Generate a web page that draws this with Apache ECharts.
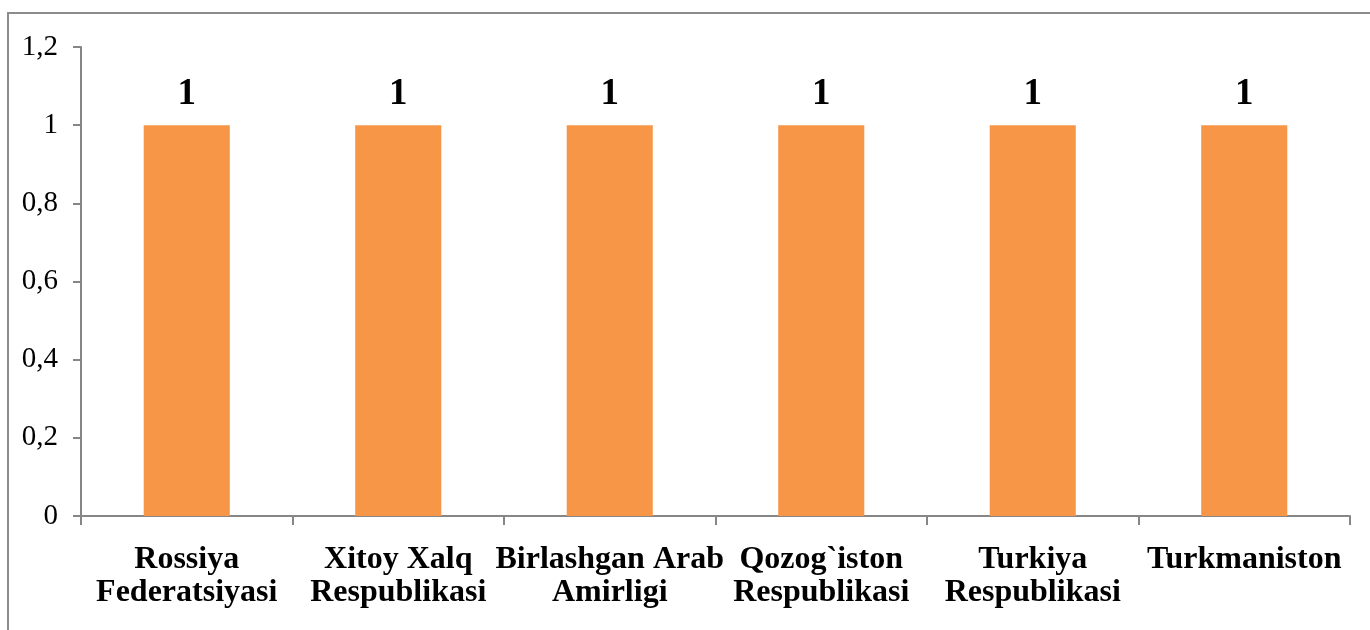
<!DOCTYPE html>
<html>
<head>
<meta charset="utf-8">
<script src="https://cdn.jsdelivr.net/npm/echarts@6/dist/echarts.min.js"></script>
<style>
  html, body { margin: 0; padding: 0; background: #fff; }
  #chart { width: 1370px; height: 630px; }
</style>
</head>
<body>
<div id="chart"></div>
<script>
// categories and values
const countries = [
  'Rossiya\nFederatsiyasi',
  'Xitoy Xalq\nRespublikasi',
  'Birlashgan Arab\nAmirligi',
  'Qozog`iston\nRespublikasi',
  'Turkiya\nRespublikasi',
  'Turkmaniston'
];
const values = [1, 1, 1, 1, 1, 1];

const axisGray = '#868686';
const serif = '"Liberation Serif", "Times New Roman", serif';

const chart = echarts.init(document.getElementById('chart'));

const option = {
  animation: false,
  backgroundColor: '#fff',
  textStyle: { fontFamily: serif },
  graphic: [{
    // outer frame of the chart area (runs off the right and bottom edges)
    type: 'rect',
    shape: { x: 8, y: 13, width: 1400, height: 660 },
    style: { fill: 'none', stroke: '#8c8c8c', lineWidth: 2 },
    silent: true
  }],
  grid: {
    left: 81,
    right: 20,
    top: 47,
    bottom: 114
  },
  xAxis: {
    type: 'category',
    data: countries,
    axisLine: { lineStyle: { color: axisGray, width: 2 } },
    axisTick: { show: true, length: 9, lineStyle: { color: axisGray, width: 2 } },
    axisLabel: {
      interval: 0,
      margin: 27,
      color: '#000',
      fontFamily: serif,
      fontWeight: 'bold',
      fontSize: 32,
      lineHeight: 33
    }
  },
  yAxis: {
    type: 'value',
    min: 0,
    max: 1.2,
    interval: 0.2,
    splitLine: { show: false },
    axisLine: { show: true, lineStyle: { color: axisGray, width: 2 } },
    axisTick: { show: true, length: 8, lineStyle: { color: axisGray, width: 2 } },
    axisLabel: {
      margin: 23,
      color: '#000',
      fontFamily: serif,
      fontSize: 29,
      formatter: (v) => String(Math.round(v * 10) / 10).replace('.', ',')
    }
  },
  series: [{
    type: 'bar',
    data: values,
    barWidth: '40.7%',
    itemStyle: { color: '#F79646' },
    label: {
      show: true,
      position: 'top',
      distance: 12,
      color: '#000',
      fontFamily: serif,
      fontWeight: 'bold',
      fontSize: 37
    }
  }]
};

chart.setOption(option);
</script>
</body>
</html>
